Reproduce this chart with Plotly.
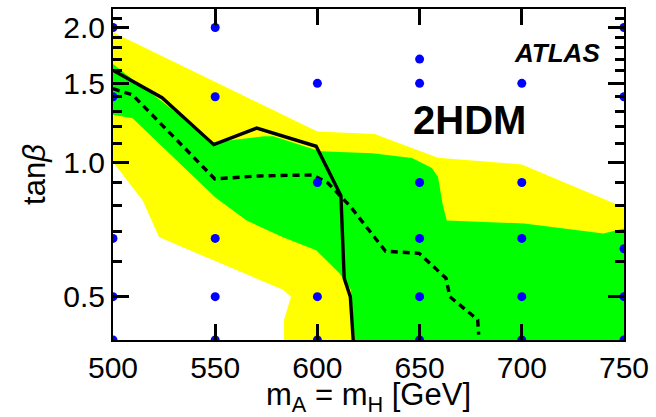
import math
import plotly.graph_objects as go

# --- 95% CL exclusion contours in the (m_A = m_H, tan beta) plane ---

# +/-2 sigma band (yellow): upper edge, then right edge down, then lower edge back
band2_m = [500, 600, 628, 659, 700, 750, 750, 583.7, 583.7, 587.1, 583.2, 522.6, 514.5, 503.2, 500]
band2_tb = [1.952, 1.171, 1.156, 1.022, 0.988, 0.791, 0.38, 0.38, 0.444, 0.500, 0.518, 0.679, 0.820, 0.955, 1.0]

# +/-1 sigma band (green)
band1_m = [500, 510.4, 524, 549.3, 574, 578.4, 601.2, 626.9, 646.3, 656, 659, 661.4, 663.3,
           701.2, 740, 750, 750, 618.7, 616.4, 610.8, 599.4, 583.2, 565.4, 550.1, 509.6, 500]
band1_tb = [1.658, 1.520, 1.366, 1.107, 1.142, 1.142, 1.058, 1.047, 1.021, 0.970, 0.926, 0.799, 0.740,
            0.729, 0.692, 0.710, 0.38, 0.38, 0.518, 0.564, 0.635, 0.679, 0.740, 0.833, 1.254, 1.276]

# observed limit (solid)
obs_m = [500, 510.4, 524, 549.3, 570.3, 599.4, 611.5, 613.1, 616.1, 617.7]
obs_tb = [1.605, 1.512, 1.393, 1.094, 1.191, 1.085, 0.841, 0.550, 0.500, 0.39]

# expected limit (dashed)
exp_m = [500, 509.5, 549.8, 571.1, 597.8, 605.1, 615.8, 633.3, 649.8, 662.9, 664.8, 678.4, 678.9]
exp_tb = [1.459, 1.415, 0.917, 0.931, 0.936, 0.898, 0.799, 0.632, 0.625, 0.550, 0.500, 0.444, 0.411]

# simulated signal grid points
grid_m = [500, 500, 500, 500, 500,
          550, 550, 550, 550, 550,
          600, 600, 600, 600,
          650, 650, 650, 650, 650, 650,
          700, 700, 700, 700, 700, 700,
          750, 750, 750, 750, 750]
grid_tb = [0.4, 0.5, 0.675, 1.4, 2.0,
           0.4, 0.5, 0.675, 1.4, 2.0,
           0.4, 0.5, 0.9, 1.5,
           0.4, 0.5, 0.675, 0.9, 1.5, 1.7,
           0.4, 0.5, 0.675, 0.9, 1.5, 1.7,
           0.4, 0.5, 0.64, 1.4, 2.0]

x_ticks = [500, 550, 600, 650, 700, 750]
y_ticks = [0.5, 1.0, 1.5, 2.0]
y_ticktext = ["0.5", "1.0", "1.5", "2.0"]
y_minor = [0.6, 0.7, 0.8, 0.9, 1.1, 1.2, 1.3, 1.4, 1.6, 1.7, 1.8, 1.9, 2.1]

FONT = "Liberation Sans, Arial, Helvetica, sans-serif"

fig = go.Figure()

fig.add_trace(go.Scatter(x=band2_m, y=band2_tb, mode="lines", fill="toself",
                         fillcolor="#ffff00", line=dict(width=0), hoverinfo="skip"))
fig.add_trace(go.Scatter(x=band1_m, y=band1_tb, mode="lines", fill="toself",
                         fillcolor="#00ff00", line=dict(width=0), hoverinfo="skip"))
fig.add_trace(go.Scatter(x=obs_m, y=obs_tb, mode="lines",
                         line=dict(color="black", width=3.4)))
fig.add_trace(go.Scatter(x=exp_m, y=exp_tb, mode="lines",
                         line=dict(color="black", width=3.4, dash="7px,5px")))
fig.add_trace(go.Scatter(x=grid_m, y=grid_tb, mode="markers",
                         marker=dict(color="#0000ff", size=9, line=dict(width=0)),
                         cliponaxis=True))

fig.update_layout(
    width=656, height=417,
    margin=dict(l=113, r=28, t=7, b=76),
    paper_bgcolor="white", plot_bgcolor="white",
    showlegend=False,
    font=dict(family=FONT, color="black"),
    annotations=[
        dict(text="<b><i>ATLAS</i></b>", xref="paper", yref="paper", x=0.869, y=0.868,
             xanchor="center", yanchor="middle", showarrow=False, bgcolor="white",
             font=dict(family=FONT, size=26, color="black")),
        dict(text="<b>2HDM</b>", xref="paper", yref="paper", x=0.698, y=0.665,
             xanchor="center", yanchor="middle", showarrow=False,
             font=dict(family=FONT, size=40, color="black")),
    ],
)

fig.update_xaxes(
    range=[500, 750], tickmode="array", tickvals=x_ticks,
    ticks="inside", ticklen=16, tickwidth=3, tickcolor="#000000",
    showline=True, linecolor="black", linewidth=2, mirror="allticks",
    showgrid=False, zeroline=False, layer="above traces",
    tickfont=dict(family=FONT, size=30, color="black"),
    title=dict(text="m<sub>A</sub> = m<sub>H</sub> [GeV]",
               font=dict(family=FONT, size=31), standoff=4),
)

fig.update_yaxes(
    type="log", range=[math.log10(0.4), math.log10(2.2)],
    tickmode="array", tickvals=y_ticks, ticktext=y_ticktext,
    ticks="inside", ticklen=16, tickwidth=3, tickcolor="#000000",
    showline=True, linecolor="black", linewidth=2, mirror="allticks",
    showgrid=False, zeroline=False, layer="above traces",
    tickfont=dict(family=FONT, size=30, color="black"),
    minor=dict(tickmode="array", tickvals=y_minor, ticks="inside",
               ticklen=9, tickwidth=3, tickcolor="#000000", showgrid=False),
    title=dict(text="tan<i>β</i>", font=dict(family=FONT, size=31), standoff=8),
)

fig.write_html("out.html")
